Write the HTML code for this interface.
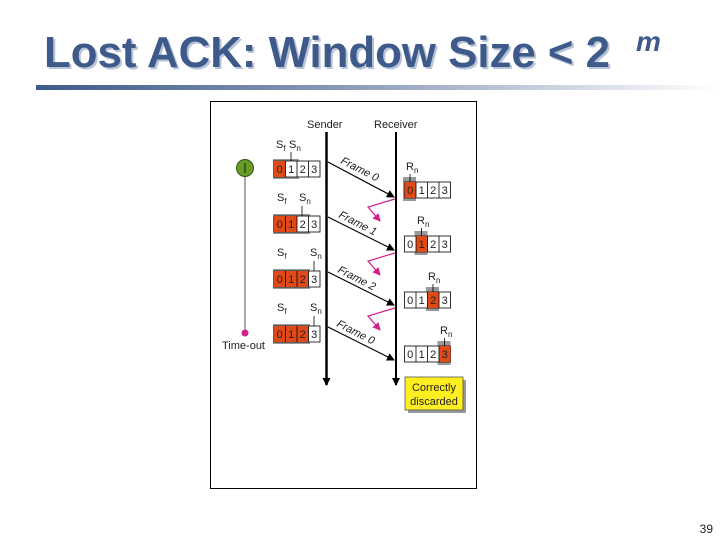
<!DOCTYPE html>
<html><head><meta charset="utf-8"><style>
html,body{margin:0;padding:0;background:#fff;width:720px;height:540px;overflow:hidden}
svg{display:block;font-family:"Liberation Sans","DejaVu Sans",sans-serif}
</style></head><body>
<svg width="720" height="540" viewBox="0 0 720 540" xmlns="http://www.w3.org/2000/svg">
<defs>
<linearGradient id="bar" x1="0" x2="1" y1="0" y2="0">
<stop offset="0" stop-color="#3d5a8a"/><stop offset="0.45" stop-color="#8a9ab8"/><stop offset="1" stop-color="#ffffff"/>
</linearGradient>
<marker id="ah" markerWidth="8" markerHeight="8" refX="7" refY="4" orient="auto" markerUnits="userSpaceOnUse"><path d="M0,0 L8,4 L0,8 Z" fill="#000"/></marker>
<marker id="mh" markerWidth="8" markerHeight="8" refX="7" refY="4" orient="auto" markerUnits="userSpaceOnUse"><path d="M0,0 L8,4 L0,8 Z" fill="#d0208a"/></marker>
</defs>
<!-- title -->
<text x="46" y="69" font-size="44" font-weight="bold" fill="#b8c4d8" textLength="566" lengthAdjust="spacingAndGlyphs">Lost ACK: Window Size &lt; 2</text>
<text x="44" y="67" font-size="44" font-weight="bold" fill="#3d5a8a" textLength="566" lengthAdjust="spacingAndGlyphs">Lost ACK: Window Size &lt; 2</text>
<text x="636" y="51" font-size="28" font-style="italic" font-weight="bold" fill="#3d5a8a">m</text>
<rect x="36" y="85" width="684" height="5" fill="url(#bar)"/>
<!-- frame -->
<rect x="210.5" y="101.5" width="266" height="387" fill="#fff" stroke="#000" stroke-width="1"/>
<text x="307" y="128" font-size="11" fill="#222">Sender</text>
<text x="374" y="128" font-size="11" fill="#222">Receiver</text>
<line x1="326.5" y1="132" x2="326.5" y2="385" stroke="#000" stroke-width="2.5" marker-end="url(#ah)"/>
<line x1="396" y1="132" x2="396" y2="385" stroke="#000" stroke-width="2" marker-end="url(#ah)"/>
<!-- timer -->
<line x1="245" y1="176" x2="245" y2="333" stroke="#555" stroke-width="1"/>
<circle cx="245" cy="168" r="8.5" fill="#6a9a2a" stroke="#2d5a10" stroke-width="1"/>
<line x1="245" y1="163" x2="245" y2="173" stroke="#1a3a08" stroke-width="1.2"/>
<circle cx="245" cy="333" r="3.5" fill="#d0208a"/>
<text x="222" y="349" font-size="11" fill="#222">Time-out</text>

<!-- sender windows -->
<g font-size="11" fill="#222">
<!-- row1 -->
<rect x="273" y="159" width="26" height="20" fill="#999"/>
<rect x="274" y="161" width="46" height="16" fill="#fff" stroke="#000" stroke-width="0.8"/>
<rect x="274" y="161" width="11.5" height="16" fill="#e04a18"/>
<text x="276" y="148">S<tspan font-size="8" dy="3">f</tspan></text>
<text x="289" y="148">S<tspan font-size="8" dy="3">n</tspan></text>
<line x1="291" y1="152" x2="291" y2="161" stroke="#000" stroke-width="0.8"/>
<!-- row2 -->
<rect x="273" y="214" width="37" height="20" fill="#999"/>
<rect x="274" y="216" width="46" height="16" fill="#fff" stroke="#000" stroke-width="0.8"/>
<rect x="274" y="216" width="23" height="16" fill="#e04a18"/>
<text x="277" y="201">S<tspan font-size="8" dy="3">f</tspan></text>
<text x="299" y="201">S<tspan font-size="8" dy="3">n</tspan></text>
<line x1="302" y1="206" x2="302" y2="216" stroke="#000" stroke-width="0.8"/>
<!-- row3 -->
<rect x="273" y="269" width="37" height="20" fill="#999"/>
<rect x="274" y="271" width="46" height="16" fill="#fff" stroke="#000" stroke-width="0.8"/>
<rect x="274" y="271" width="34.5" height="16" fill="#e04a18"/>
<text x="277" y="256">S<tspan font-size="8" dy="3">f</tspan></text>
<text x="310" y="256">S<tspan font-size="8" dy="3">n</tspan></text>
<line x1="314" y1="261" x2="314" y2="271" stroke="#000" stroke-width="0.8"/>
<!-- row4 -->
<rect x="273" y="324" width="37" height="20" fill="#999"/>
<rect x="274" y="326" width="46" height="16" fill="#fff" stroke="#000" stroke-width="0.8"/>
<rect x="274" y="326" width="34.5" height="16" fill="#e04a18"/>
<text x="277" y="311">S<tspan font-size="8" dy="3">f</tspan></text>
<text x="310" y="311">S<tspan font-size="8" dy="3">n</tspan></text>
<line x1="314" y1="316" x2="314" y2="326" stroke="#000" stroke-width="0.8"/>
</g>
<g stroke="#000" stroke-width="0.8">
<line x1="285.5" y1="161" x2="285.5" y2="177"/><line x1="297" y1="161" x2="297" y2="177"/><line x1="308.5" y1="161" x2="308.5" y2="177"/>
<line x1="285.5" y1="216" x2="285.5" y2="232"/><line x1="297" y1="216" x2="297" y2="232"/><line x1="308.5" y1="216" x2="308.5" y2="232"/>
<line x1="285.5" y1="271" x2="285.5" y2="287"/><line x1="297" y1="271" x2="297" y2="287"/><line x1="308.5" y1="271" x2="308.5" y2="287"/>
<line x1="285.5" y1="326" x2="285.5" y2="342"/><line x1="297" y1="326" x2="297" y2="342"/><line x1="308.5" y1="326" x2="308.5" y2="342"/>
</g>
<g font-size="11" fill="#222" text-anchor="middle">
<text x="279.7" y="173">0</text><text x="291.2" y="173">1</text><text x="302.7" y="173">2</text><text x="314.2" y="173">3</text>
<text x="279.7" y="228">0</text><text x="291.2" y="228">1</text><text x="302.7" y="228">2</text><text x="314.2" y="228">3</text>
<text x="279.7" y="283">0</text><text x="291.2" y="283">1</text><text x="302.7" y="283">2</text><text x="314.2" y="283">3</text>
<text x="279.7" y="338">0</text><text x="291.2" y="338">1</text><text x="302.7" y="338">2</text><text x="314.2" y="338">3</text>
</g>

<!-- receiver windows -->
<g font-size="11" fill="#222">
<rect x="403" y="177" width="13" height="24" fill="#999"/>
<rect x="404.5" y="182" width="46" height="16" fill="#fff" stroke="#000" stroke-width="0.8"/>
<rect x="404.5" y="182" width="11.5" height="16" fill="#e04a18"/>
<text x="406" y="170">R<tspan font-size="8" dy="3">n</tspan></text>
<line x1="410" y1="174" x2="410" y2="182" stroke="#000" stroke-width="0.8"/>

<rect x="414.5" y="231" width="13" height="24" fill="#999"/>
<rect x="404.5" y="236" width="46" height="16" fill="#fff" stroke="#000" stroke-width="0.8"/>
<rect x="416" y="236" width="11.5" height="16" fill="#e04a18"/>
<text x="417" y="224">R<tspan font-size="8" dy="3">n</tspan></text>
<line x1="421.5" y1="228" x2="421.5" y2="236" stroke="#000" stroke-width="0.8"/>

<rect x="426" y="287" width="13" height="24" fill="#999"/>
<rect x="404.5" y="292" width="46" height="16" fill="#fff" stroke="#000" stroke-width="0.8"/>
<rect x="427.5" y="292" width="11.5" height="16" fill="#e04a18"/>
<text x="428" y="280">R<tspan font-size="8" dy="3">n</tspan></text>
<line x1="433" y1="284" x2="433" y2="292" stroke="#000" stroke-width="0.8"/>

<rect x="437.5" y="341" width="13" height="24" fill="#999"/>
<rect x="404.5" y="346" width="46" height="16" fill="#fff" stroke="#000" stroke-width="0.8"/>
<rect x="439" y="346" width="11.5" height="16" fill="#e04a18"/>
<text x="440" y="334">R<tspan font-size="8" dy="3">n</tspan></text>
<line x1="444.5" y1="338" x2="444.5" y2="346" stroke="#000" stroke-width="0.8"/>
</g>
<g stroke="#000" stroke-width="0.8">
<line x1="416" y1="182" x2="416" y2="198"/><line x1="427.5" y1="182" x2="427.5" y2="198"/><line x1="439" y1="182" x2="439" y2="198"/>
<line x1="416" y1="236" x2="416" y2="252"/><line x1="427.5" y1="236" x2="427.5" y2="252"/><line x1="439" y1="236" x2="439" y2="252"/>
<line x1="416" y1="292" x2="416" y2="308"/><line x1="427.5" y1="292" x2="427.5" y2="308"/><line x1="439" y1="292" x2="439" y2="308"/>
<line x1="416" y1="346" x2="416" y2="362"/><line x1="427.5" y1="346" x2="427.5" y2="362"/><line x1="439" y1="346" x2="439" y2="362"/>
</g>
<g font-size="11" fill="#222" text-anchor="middle">
<text x="410.2" y="194">0</text><text x="421.7" y="194">1</text><text x="433.2" y="194">2</text><text x="444.7" y="194">3</text>
<text x="410.2" y="248">0</text><text x="421.7" y="248">1</text><text x="433.2" y="248">2</text><text x="444.7" y="248">3</text>
<text x="410.2" y="304">0</text><text x="421.7" y="304">1</text><text x="433.2" y="304">2</text><text x="444.7" y="304">3</text>
<text x="410.2" y="358">0</text><text x="421.7" y="358">1</text><text x="433.2" y="358">2</text><text x="444.7" y="358">3</text>
</g>

<!-- frames -->
<g stroke="#000" stroke-width="1.2">
<line x1="328" y1="162" x2="394" y2="197" marker-end="url(#ah)"/>
<line x1="328" y1="217" x2="394" y2="250" marker-end="url(#ah)"/>
<line x1="328" y1="272" x2="394" y2="305" marker-end="url(#ah)"/>
<line x1="328" y1="327" x2="394" y2="360" marker-end="url(#ah)"/>
</g>
<g font-size="11" font-style="italic" fill="#222">
<text transform="translate(340,163) rotate(27)">Frame 0</text>
<text transform="translate(338,217) rotate(27)">Frame 1</text>
<text transform="translate(337,272) rotate(27)">Frame 2</text>
<text transform="translate(336,326) rotate(27)">Frame 0</text>
</g>
<!-- lost acks -->
<g stroke="#d0208a" stroke-width="1.2" fill="none">
<polyline points="395,199 368,207 380,221" marker-end="url(#mh)"/>
<polyline points="395,253 368,261 380,275" marker-end="url(#mh)"/>
<polyline points="395,308 368,316 380,330" marker-end="url(#mh)"/>
</g>
<!-- correctly discarded -->
<rect x="408" y="380" width="58" height="33" fill="#999"/>
<rect x="405" y="377" width="58" height="33" fill="#ffef20" stroke="#555" stroke-width="0.8"/>
<text x="434" y="391" font-size="11" fill="#222" text-anchor="middle">Correctly</text>
<text x="434" y="405" font-size="11" fill="#222" text-anchor="middle">discarded</text>
<!-- page number -->
<text x="713" y="533" font-size="12" fill="#222" text-anchor="end">39</text>
</svg>
</body></html>
